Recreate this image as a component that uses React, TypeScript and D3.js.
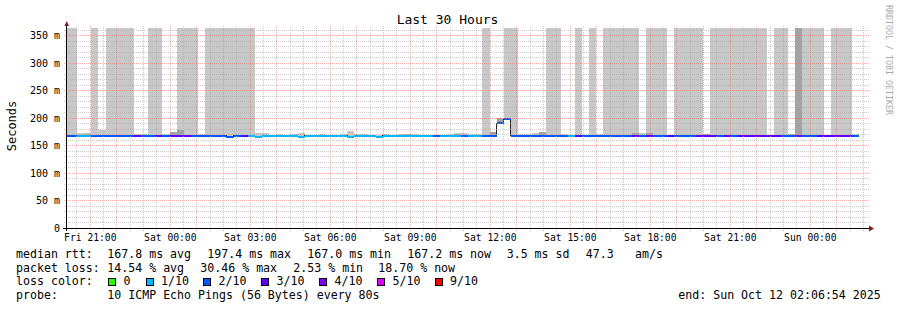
import React from "react";
import * as d3 from "d3";

// ---- time frame ----
const END_TIME = Date.UTC(2025, 9, 12, 2, 6, 54);
const SPAN_HOURS = 30;
const BIN_SECONDS = 960;
const FIRST_BIN_OFFSET = 540; // seconds after start where first full bin begins

// ---- per-bin data (first entry is the partial bin at the left edge) ----
const medianMs: number[] = [
  167.5, 167.5, 167.5, 167.5, 167.5, 167.5, 167.5, 167.5, 167.5, 167.5,
  167.5, 167.5, 167.5, 167.5, 167.5, 167.5, 167.5, 167.5, 167.5, 167.5,
  167.5, 167.5, 167.5, 165.5, 167.5, 167.5, 167.5, 165.5, 167.5, 167.5,
  167.5, 167.5, 167.5, 165.5, 167.5, 167.5, 167.5, 167.5, 167.5, 167.5,
  165.5, 167.5, 167.5, 167.5, 165.5, 167.5, 167.5, 167.5, 167.5, 167.5,
  167.5, 167.5, 167.5, 167.5, 167.5, 167.5, 167.5, 167.5, 167.5, 167.5,
  167.5, 190, 197.2, 167.5, 167.5, 167.5, 167.5, 167.5, 167.5, 167.5,
  167.5, 167.5, 167.5, 167.5, 167.5, 167.5, 167.5, 167.5, 167.5, 167.5,
  167.5, 167.5, 167.5, 167.5, 167.5, 167.5, 167.5, 167.5, 167.5, 167.5,
  167.5, 167.5, 167.5, 167.5, 167.5, 167.5, 167.5, 167.5, 167.5, 167.5,
  167.5, 167.5, 167.5, 167.5, 167.5, 167.5, 167.5, 167.5, 167.5, 167.5,
  167.5, 167.5, NaN,
];

// lost pings out of 10 (loss colour level)
const lossLevel: number[] = [
  2, 2, 1, 1, 2, 2, 2, 2, 2, 2,
  3, 2, 2, 3, 2, 3, 3, 3, 2, 2,
  2, 2, 2, 2, 2, 3, 1, 1, 1, 1,
  1, 1, 1, 1, 1, 1, 1, 1, 1, 1,
  1, 1, 1, 1, 1, 1, 1, 1, 1, 1,
  1, 1, 2, 1, 1, 1, 2, 1, 1, 2,
  2, 2, 2, 2, 2, 2, 2, 2, 2, 2,
  2, 1, 3, 2, 2, 2, 2, 2, 2, 2,
  3, 2, 3, 2, 2, 3, 2, 2, 2, 3,
  3, 3, 2, 3, 2, 3, 3, 3, 3, 3,
  3, 2, 2, 4, 2, 2, 3, 3, 3, 3,
  3, 2, 0,
];

// smoke reaching beyond the top of the graph: 0 none, 1 outer band, 2 inner band
const tallSmoke: number[] = [
  1, 1, 0, 0, 1, 0, 1, 1, 1, 1,
  0, 0, 1, 1, 0, 0, 1, 1, 1, 0,
  1, 1, 1, 1, 1, 1, 1, 0, 0, 0,
  0, 0, 0, 0, 0, 0, 0, 0, 0, 0,
  0, 0, 0, 0, 0, 0, 0, 0, 0, 0,
  0, 0, 0, 0, 0, 0, 0, 0, 0, 1,
  0, 0, 1, 1, 0, 0, 0, 0, 1, 1,
  0, 0, 1, 0, 1, 0, 1, 1, 1, 1,
  1, 0, 1, 1, 1, 0, 1, 1, 1, 1,
  0, 1, 1, 1, 1, 1, 1, 1, 1, 0,
  1, 1, 0, 2, 1, 1, 1, 0, 1, 1,
  1, 0, 0,
];

// top of outer (light) smoke band, ms
const smokeOuterMs: number[] = [
  169, 169, 173, 173, 169, 177, 169, 169, 169, 169,
  170, 170, 169, 169, 170.5, 175, 169, 169, 169, 170.5,
  169, 169, 169, 168.5, 169, 169, 173, 173, 173, 169,
  170.5, 169, 171, 172.5, 169, 169, 170.5, 169, 169, 171,
  176, 170.5, 170.5, 169, 169, 171, 169, 170.5, 171, 171,
  169, 169, 169, 169, 171, 172, 172, 170, 170, 169,
  169, 169, 201, 169, 170.5, 170.5, 172, 174, 169, 169,
  170, 169, 169, 169, 169, 171, 169, 169, 169, 169,
  169, 172, 171, 169, 169, 169, 169, 170.5, 169, 169,
  169, 169, 169, 169, 171, 169, 170, 169, 170.5, 169,
  169, 169, 170, 169, 169, 169, 171, 169, 169, 169,
  169, 170, NaN,
];

// top of inner (darker) smoke band, ms (0 = not visible)
const smokeInnerMs: number[] = [
  0, 0, 0, 171, 0, 0, 0, 0, 0, 0,
  0, 0, 0, 0, 0, 175, 178, 0, 0, 0,
  0, 0, 0, 0, 0, 0, 0, 0, 0, 0,
  0, 0, 0, 0, 0, 0, 0, 0, 0, 0,
  0, 0, 0, 0, 0, 0, 0, 0, 170.5, 0,
  0, 0, 0, 0, 0, 170.5, 0, 0, 0, 0,
  175, 200, 0, 0, 0, 0, 0, 174, 0, 0,
  0, 0, 0, 0, 0, 0, 0, 0, 0, 0,
  173, 0, 172, 0, 0, 0, 0, 0, 0, 0,
  170, 0, 0, 0, 0, 0, 0, 0, 0, 0,
  0, 0, 171, 0, 0, 0, 0, 0, 0, 0,
  0, 0, 0,
];

// ---- legend ----
const lossLabels = ["0", "1/10", "2/10", "3/10", "4/10", "5/10", "9/10"];
const lossLevels = [0, 1, 2, 3, 4, 5, 9];
const lossColors = ["#26ff00", "#00b8ff", "#0059ff", "#5e00ff", "#7e00ff", "#dd00ff", "#ff0000"];

const rttRow = ["median rtt:", "167.8 ms avg", "197.4 ms max", "167.0 ms min", "167.2 ms now", "3.5 ms sd", "47.3", "am/s"];
const lossRow = ["packet loss:", "14.54 % avg", "30.46 % max", "2.53 % min", "18.70 % now"];
const probeRow = ["probe:", "10 ICMP Echo Pings (56 Bytes) every 80s"];
const endLabel = "end: Sun Oct 12 02:06:54 2025";
const yTickValues = [0, 50, 100, 150, 200, 250, 300, 350];

// layout
const rttX = [16, 107.3, 207.3, 307.3, 407.3, 506.7, 585.7, 635];
const lossX = [16, 107.3, 200.3, 293.3, 378.3];
const swatchX = [108.5, 146, 203.5, 261.5, 319.5, 377.5, 435];

const FONT = "DejaVu Sans Mono, monospace";
const GRID_COLOR = "rgba(170,170,170,0.6)";
const MGRID_COLOR = "rgba(235,110,110,0.55)";

export default function App() {
  const start = END_TIME - SPAN_HOURS * 3600 * 1000;
  const x = d3.scaleUtc().domain([new Date(start), new Date(END_TIME)]).range([66, 866]);
  const y = d3.scaleLinear().domain([0, 362.8]).range([228, 28]);

  const bins = medianMs.map((m, i) => {
    const k = i - 1;
    const t0 = k < 0 ? start : start + (FIRST_BIN_OFFSET + BIN_SECONDS * k) * 1000;
    const t1 = Math.min(start + (FIRST_BIN_OFFSET + BIN_SECONDS * (k + 1)) * 1000, END_TIME);
    return {
      x0: x(new Date(t0)),
      x1: x(new Date(t1)),
      m,
      loss: lossLevel[i],
      tall: tallSmoke[i],
      outer: smokeOuterMs[i],
      inner: smokeInnerMs[i],
    };
  });

  const colorFor = (lvl: number) => lossColors[lossLevels.indexOf(lvl)] || "#000";

  // grid
  const hMinor = d3.range(10, 361, 10).filter((v) => v % 50 !== 0);
  const hMajor = d3.range(50, 351, 50);
  const halfHours = d3.utcMinute.every(30)!.range(new Date(start), new Date(END_TIME));
  const vMinor = halfHours.filter((d) => d.getUTCMinutes() !== 0);
  const vMajor = halfHours.filter((d) => d.getUTCMinutes() === 0);
  const labelTimes = vMajor.filter((d) => d.getUTCHours() % 3 === 0);
  const fmt = d3.utcFormat("%a %H:%M");

  // median line (step)
  const linePts: [number, number][] = [];
  bins.forEach((b) => {
    if (!isNaN(b.m)) {
      linePts.push([b.x0, b.m]);
      linePts.push([b.x1, b.m]);
    }
  });
  const medianPath = d3
    .line<[number, number]>()
    .x((d) => d[0])
    .y((d) => y(d[1]))(linePts);

  const yTop = y.range()[1];
  const hy = (v: number) => Math.round(y(v));
  const vx = (d: Date) => Math.round(x(d));

  return (
    <svg
      width={897}
      height={310}
      style={{ position: "absolute", left: 0, top: 0, background: "#fff" }}
      fontFamily={FONT}
    >
      <defs>
        <pattern id="hMinorDots" x={0} y={0} width={2} height={1} patternUnits="userSpaceOnUse">
          <rect x={0} y={0} width={1} height={1} fill={GRID_COLOR} />
        </pattern>
        <pattern id="hMajorDots" x={0} y={0} width={2} height={1} patternUnits="userSpaceOnUse">
          <rect x={0} y={0} width={1} height={1} fill={MGRID_COLOR} />
        </pattern>
        <pattern id="vMinorDots" x={0} y={0} width={1} height={2} patternUnits="userSpaceOnUse">
          <rect x={0} y={0} width={1} height={1} fill={GRID_COLOR} />
        </pattern>
        <pattern id="vMajorDots" x={0} y={0} width={1} height={2} patternUnits="userSpaceOnUse">
          <rect x={0} y={0} width={1} height={1} fill={MGRID_COLOR} />
        </pattern>
      </defs>
      <rect x={0} y={0} width={897} height={310} fill="#ffffff" />
      {/* smoke */}
      <g shapeRendering="crispEdges">
        {bins.map((b, i) => {
          if (isNaN(b.m)) return null;
          const w = b.x1 - b.x0;
          const els: React.ReactNode[] = [];
          const base = y(b.m - 2);
          if (b.tall === 1) {
            els.push(<rect key="t" x={b.x0} y={yTop} width={w} height={y(b.m) - yTop} fill="#c8c8c8" />);
          } else if (b.tall === 2) {
            els.push(<rect key="t" x={b.x0} y={yTop} width={w} height={y(b.m) - yTop} fill="#a2a2a2" />);
          }
          if (!b.tall && b.outer > b.m) {
            els.push(<rect key="o" x={b.x0} y={y(b.outer)} width={w} height={base - y(b.outer)} fill="#c8c8c8" />);
          }
          if (b.inner > 0) {
            const lo = b.m > 180 ? y(b.m) : base;
            els.push(<rect key="n" x={b.x0} y={y(b.inner)} width={w} height={lo - y(b.inner)} fill="#a2a2a2" />);
          }
          return <g key={i}>{els}</g>;
        })}
      </g>

      {/* median black line */}
      <path d={medianPath || ""} fill="none" stroke="#202020" strokeWidth={1} shapeRendering="crispEdges" />

      {/* loss-coloured median band */}
      <g shapeRendering="crispEdges">
        {bins.map((b, i) => {
          if (isNaN(b.m)) return null;
          const yc = Math.round(y(b.m));
          return <rect key={i} x={b.x0} y={yc - 1} width={b.x1 - b.x0} height={2} fill={colorFor(b.loss)} />;
        })}
      </g>

      {/* grid (dotted) */}
      <g shapeRendering="crispEdges">
        {hMinor.map((v) => (
          <rect key={"hm" + v} x={63} y={hy(v)} width={806} height={1} fill="url(#hMinorDots)" />
        ))}
        {vMinor.map((d) => (
          <rect key={"vm" + +d} x={vx(d)} y={26} width={1} height={205} fill="url(#vMinorDots)" />
        ))}
        {hMajor.map((v) => (
          <rect key={"hM" + v} x={63} y={hy(v)} width={806} height={1} fill="url(#hMajorDots)" />
        ))}
        {vMajor.map((d) => (
          <rect key={"vM" + +d} x={vx(d)} y={26} width={1} height={205} fill="url(#vMajorDots)" />
        ))}
      </g>

      {/* axes */}
      <g shapeRendering="crispEdges">
        <line x1={63} x2={870} y1={228.5} y2={228.5} stroke="#000" />
        <line x1={66.5} x2={66.5} y1={231} y2={23} stroke="#000" />
      </g>
      <path d="M64.5,26 L69,26 L66.75,21 Z" fill="#8b1c1c" />
      <path d="M869,225.5 L869,231.5 L874,228.5 Z" fill="#8b1c1c" />

      {/* y tick labels */}
      <g fontSize={10} fill="#000" textAnchor="end">
        {yTickValues.map((v) => (
          <text key={v} x={60} y={Math.round(y(v)) + 3.8}>
            {v === 0 ? "0" : `${v} m`}
          </text>
        ))}
      </g>

      {/* x tick labels */}
      <g fontSize={9.7} fill="#000" textAnchor="middle">
        {labelTimes.map((d) => (
          <text key={+d} x={x(d) + 0.7} y={241}>
            {fmt(d)}
          </text>
        ))}
      </g>

      {/* title & axis label */}
      <text x={447.5} y={24} fontSize={13} textAnchor="middle" fill="#000">
        Last 30 Hours
      </text>
      <text transform="translate(15.5,126) rotate(-90)" fontSize={12} textAnchor="middle" fill="#000">
        Seconds
      </text>
      <text transform="translate(885.5,5) rotate(90)" fontSize={8.3} fill="#aaaaaa">
        RRDTOOL / TOBI OETIKER
      </text>

      {/* legend */}
      <g fontSize={11.6} fill="#000">
        {rttRow.map((t, i) => (
          <text key={"r" + i} x={rttX[i]} y={258}>
            {t}
          </text>
        ))}
        {lossRow.map((t, i) => (
          <text key={"l" + i} x={lossX[i]} y={271.7}>
            {t}
          </text>
        ))}
        <text x={16} y={285.3}>
          loss color:
        </text>
        {lossLabels.map((t, i) => (
          <g key={"s" + i}>
            <rect x={swatchX[i]} y={278.5} width={7} height={7} fill={lossColors[i]} stroke="#000" shapeRendering="crispEdges" />
            <text x={swatchX[i] + 15} y={285.3}>
              {t}
            </text>
          </g>
        ))}
        <text x={16} y={299}>
          {probeRow[0]}
        </text>
        <text x={107.3} y={299}>
          {probeRow[1]}
        </text>
        <text x={678.3} y={299}>
          {endLabel}
        </text>
      </g>
    </svg>
  );
}
